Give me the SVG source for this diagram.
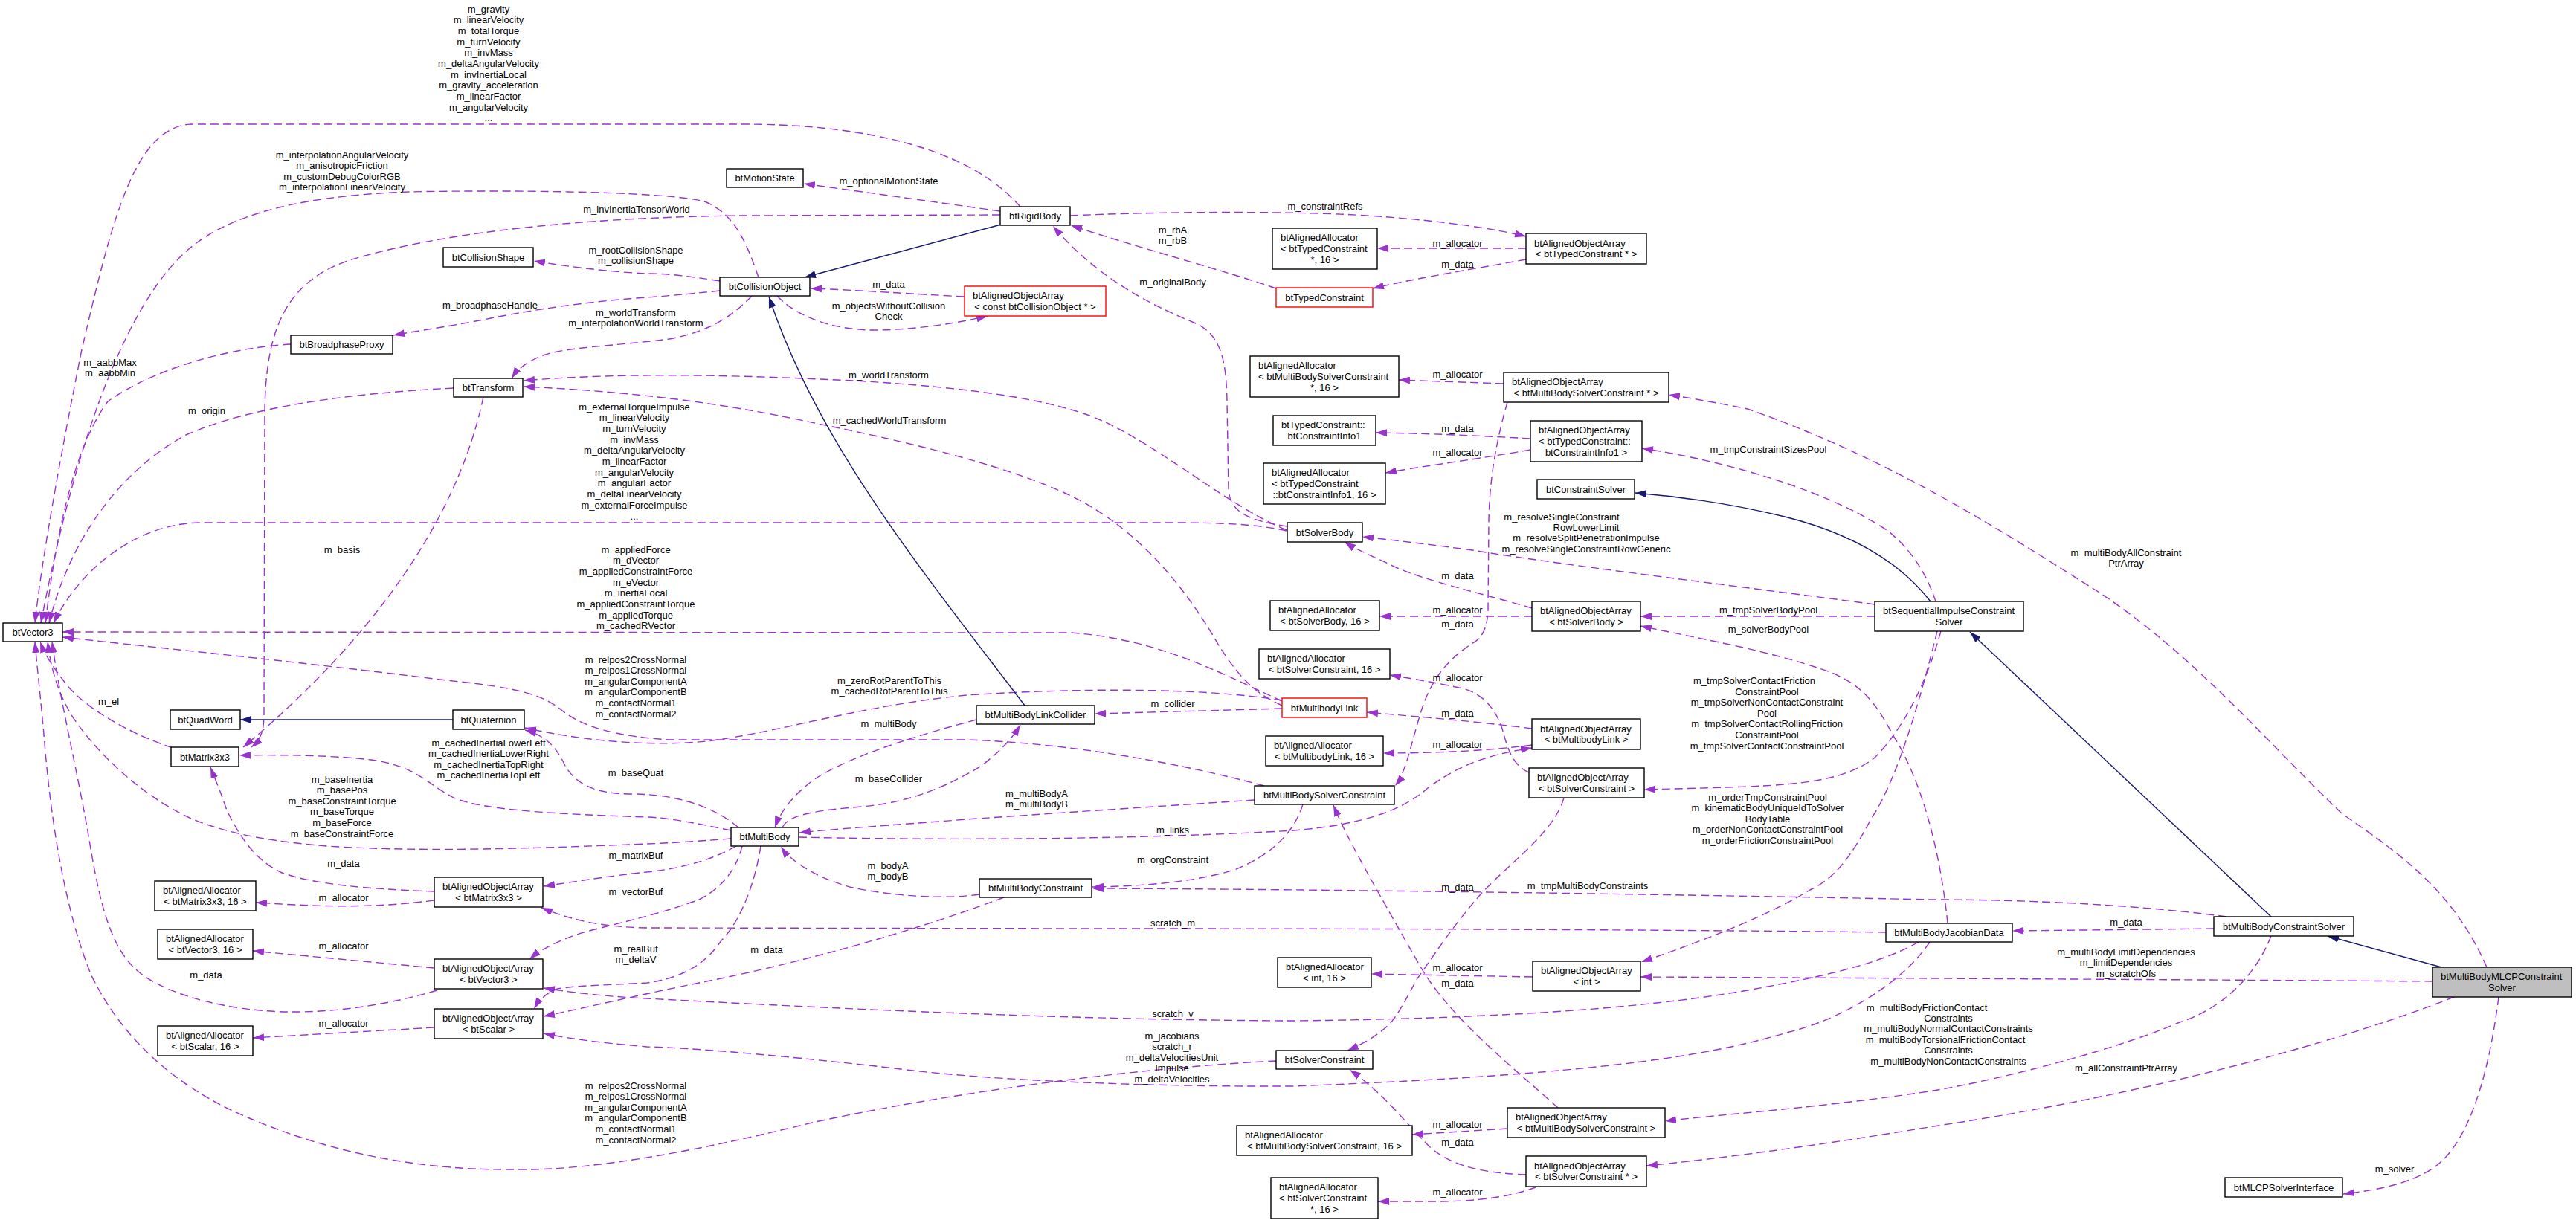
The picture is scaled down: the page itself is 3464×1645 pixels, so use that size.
<svg xmlns="http://www.w3.org/2000/svg" width="3464" height="1645" viewBox="0 0 3464 1645">
<defs>
<style>
.nd rect{fill:#fff;stroke:#000;stroke-width:1.4}
.nd.red rect{stroke:#f00}
.nd.main rect{fill:#bfbfbf}
text{font-family:"Liberation Sans",Arial,Helvetica,sans-serif;font-size:13px;fill:#000}
.c{text-anchor:middle}
.e{fill:none;stroke:#9a32cd;stroke-width:1.4;stroke-dasharray:11,6;marker-end:url(#mp)}
.i{fill:none;stroke:#191970;stroke-width:1.4;marker-end:url(#mb)}
</style>
<marker id="mp" viewBox="0 0 15 10" refX="15" refY="5" markerWidth="15" markerHeight="10" markerUnits="userSpaceOnUse" orient="auto"><path d="M0,0 L15,5 L0,10 z" fill="#9a32cd"/></marker>
<marker id="mb" viewBox="0 0 15 10" refX="15" refY="5" markerWidth="15" markerHeight="10" markerUnits="userSpaceOnUse" orient="auto"><path d="M0,0 L15,5 L0,10 z" fill="#191970"/></marker>
</defs>
<rect width="3464" height="1645" fill="#fff"/>

<g id="edges">
<path class="e" d="M 1372,278 C 1300,195 1150,167 1000,167 L 260,167 C 180,167 150,300 110,470 C 80,620 55,760 47,838"/>
<path class="e" d="M 1020,373 C 1005,330 990,290 950,272 C 910,258 700,255 549,258 C 450,262 330,275 260,330 C 170,400 100,600 55,838"/>
<path class="e" d="M 391,463 C 300,468 200,500 145,540 C 100,600 75,720 61,838"/>
<path class="e" d="M 610,522 C 450,530 330,550 250,585 C 150,640 90,740 66,838"/>
<path class="e" d="M 1730,714 C 1690,705 1640,703 1580,703 L 270,703 C 190,703 110,760 72,838"/>
<path class="e" d="M 1724,943 C 1640,905 1560,860 1440,851 L 84,850"/>
<path class="e" d="M 1700,1057 C 1600,1030 1450,1000 1300,995 L 900,995 C 820,990 780,975 755,955 C 730,935 700,925 600,915 C 400,890 200,870 84,857"/>
<path class="e" d="M 1724,942 C 1620,925 1450,925 1300,935 C 1150,950 1050,985 950,997 C 880,1004 790,998 706,979"/>
<path class="e" d="M 993,1113 C 960,1085 910,1068 850,1068 C 800,1068 775,1055 760,1030 C 748,1005 735,990 706,982"/>
<path class="e" d="M 983,1117 C 940,1108 900,1100 870,1099 C 750,1095 650,1090 610,1073 C 575,1055 560,1030 499,1022 C 450,1016 380,1015 322,1016"/>
<path class="e" d="M 650,534 C 615,700 500,860 327,1005"/>
<path class="e" d="M 1345,289 L 1000,290 C 800,292 600,310 470,350 C 380,380 358,450 356,550 L 355,960 C 355,985 350,995 338,1005"/>
<path class="e" d="M 232,1006 C 170,985 110,950 85,915 C 70,895 60,880 54,863"/>
<path class="e" d="M 983,1128 C 930,1132 900,1134 870,1135 C 700,1142 560,1146 440,1138 C 340,1130 290,1115 255,1100 C 180,1065 120,1000 95,960 C 75,925 68,895 64,863"/>
<path class="e" d="M 588,1332 C 520,1352 450,1362 388,1361 C 310,1360 230,1340 190,1310 C 150,1280 135,1220 120,1130 C 105,1040 80,940 70,863"/>
<path class="e" d="M 1716,1427 C 1550,1435 1300,1465 1092,1510 C 950,1545 800,1575 694,1573 C 540,1575 420,1540 333,1503 C 230,1460 160,1390 122,1310 C 90,1230 70,1120 60,1000 C 55,940 50,900 47,863"/>
<path class="e" d="M 968,378 C 930,372 900,368 870,368 C 820,366 760,358 718,351"/>
<path class="e" d="M 968,391 C 930,395 900,398 870,400 C 780,406 700,420 660,428 C 600,440 560,445 529,451"/>
<path class="e" d="M 1011,398 C 990,420 960,445 900,456 C 830,465 760,467 730,478 C 705,488 695,498 688,509"/>
<path class="e" d="M 1730,713 C 1650,680 1560,600 1480,565 C 1400,530 1250,518 1147,512 C 1000,505 850,500 704,512"/>
<path class="e" d="M 1724,949 C 1680,930 1660,900 1640,870 C 1600,800 1540,720 1452,673 C 1380,635 1250,600 1100,570 C 1000,548 880,528 704,520"/>
<path class="e" d="M 1731,708 C 1680,700 1655,690 1652,660 L 1650,540 C 1649,480 1640,450 1608,435 C 1560,415 1480,380 1416,304"/>
<path class="e" d="M 1345,284 L 1081,247"/>
<path class="e" d="M 1439,290 C 1550,285 1700,284 1800,288 C 1900,292 2000,305 2052,318"/>
<path class="e" d="M 1716,388 C 1650,365 1520,330 1440,303"/>
<path class="e" d="M 1297,399 C 1220,395 1150,390 1090,388"/>
<path class="e" d="M 1045,398 C 1070,425 1120,445 1181,444 C 1240,443 1300,432 1328,425"/>
<path class="e" d="M 2052,334 L 1852,334"/>
<path class="e" d="M 2052,349 C 1980,362 1900,375 1846,388"/>
<path class="e" d="M 2022,516 L 1881,511"/>
<path class="e" d="M 2027,541 C 2010,600 2003,650 2002,700 L 2001,820 C 2000,850 1990,860 1979,866 C 1950,885 1925,910 1910,960 C 1895,1010 1890,1040 1876,1057"/>
<path class="e" d="M 2058,590 C 1990,586 1920,583 1850,582"/>
<path class="e" d="M 2058,605 C 1990,617 1920,626 1863,636"/>
<path class="e" d="M 2603,809 C 2590,770 2570,740 2540,715 C 2460,660 2320,620 2208,603"/>
<path class="e" d="M 2521,813 C 2350,790 2100,760 1980,740 C 1920,732 1870,726 1832,722"/>
<path class="e" d="M 2060,818 C 2000,800 1930,785 1879,764 C 1850,750 1825,740 1808,729"/>
<path class="e" d="M 2060,829 L 1855,829"/>
<path class="e" d="M 2521,829 L 2206,829"/>
<path class="e" d="M 2619,1242 C 2610,1150 2585,1050 2545,988 C 2520,940 2500,920 2461,904 C 2380,875 2290,860 2206,842"/>
<path class="e" d="M 2610,849 C 2590,920 2560,980 2520,1020 C 2480,1050 2420,1055 2350,1058 C 2300,1060 2250,1061 2211,1062"/>
<path class="e" d="M 2056,1039 C 2035,1030 2028,1010 2020,980 C 2010,950 1990,930 1962,925 C 1930,918 1900,913 1869,908"/>
<path class="e" d="M 2103,1073 C 2090,1120 2030,1160 1990,1204 C 1950,1250 1925,1290 1906,1316 C 1890,1345 1880,1365 1868,1378 C 1850,1395 1830,1405 1812,1413"/>
<path class="e" d="M 2060,980 C 2000,972 1920,965 1838,958"/>
<path class="e" d="M 2060,1002 C 2000,1010 1930,1013 1860,1013"/>
<path class="e" d="M 1724,953 C 1650,955 1550,958 1472,960"/>
<path class="e" d="M 1074,1126 C 1300,1131 1550,1128 1740,1117 C 1820,1110 1880,1095 1920,1060 C 1960,1030 2000,1015 2060,1006"/>
<path class="e" d="M 1687,1076 C 1550,1085 1400,1095 1300,1102 C 1200,1110 1120,1115 1075,1120"/>
<path class="e" d="M 1313,968 C 1230,990 1150,1015 1100,1045 C 1070,1065 1050,1090 1042,1113"/>
<path class="e" d="M 1052,1113 C 1060,1095 1100,1090 1158,1085 C 1220,1080 1270,1060 1320,1030 C 1345,1010 1360,995 1372,975"/>
<path class="e" d="M 1317,1203 C 1270,1210 1200,1205 1147,1194 C 1100,1182 1065,1160 1050,1139"/>
<path class="e" d="M 1752,1082 C 1740,1120 1710,1150 1660,1170 C 1600,1188 1530,1192 1469,1193"/>
<path class="e" d="M 2994,1233 C 2900,1220 2750,1210 2600,1210 C 2300,1204 1800,1196 1469,1195"/>
<path class="e" d="M 1350,1207 C 1250,1245 1100,1290 950,1320 C 850,1340 790,1355 731,1367"/>
<path class="e" d="M 990,1138 C 960,1155 920,1168 870,1173 C 820,1178 780,1185 731,1192"/>
<path class="e" d="M 998,1138 C 990,1170 970,1195 940,1210 C 900,1225 860,1235 800,1250 C 760,1260 730,1275 712,1290"/>
<path class="e" d="M 1023,1138 C 1015,1190 995,1240 970,1265 C 950,1295 920,1315 870,1322 C 820,1325 780,1325 750,1330 C 735,1335 725,1345 718,1357"/>
<path class="e" d="M 2536,1254 C 2300,1251 1900,1249 1500,1249 L 870,1248 C 810,1247 770,1238 728,1221"/>
<path class="e" d="M 2580,1267 C 2530,1295 2461,1312 2350,1332 C 2200,1358 2000,1370 1740,1373 C 1450,1372 1150,1358 870,1343 C 810,1340 770,1335 731,1329"/>
<path class="e" d="M 2595,1267 C 2560,1320 2480,1370 2406,1388 C 2300,1420 2150,1445 1740,1461 C 1500,1462 1300,1450 1203,1437 C 1100,1425 950,1410 870,1408 C 800,1402 760,1396 731,1390"/>
<path class="e" d="M 584,1211 C 530,1218 480,1220 420,1218 C 390,1217 365,1215 344,1214"/>
<path class="e" d="M 584,1199 C 500,1196 420,1190 377,1173 C 340,1155 320,1120 305,1090 C 295,1060 288,1045 283,1032"/>
<path class="e" d="M 584,1302 L 340,1279"/>
<path class="e" d="M 584,1382 L 340,1396"/>
<path class="e" d="M 3344,1301 C 3300,1200 3230,1150 3150,1095 C 3050,1000 2950,880 2820,795 C 2700,720 2550,620 2350,550 C 2300,540 2270,535 2244,531"/>
<path class="e" d="M 2605,849 C 2580,950 2550,1050 2517,1100 C 2490,1150 2470,1180 2434,1197 C 2380,1230 2300,1262 2207,1294"/>
<path class="e" d="M 3271,1320 C 3000,1318 2600,1316 2206,1314"/>
<path class="e" d="M 2977,1249 C 2900,1250 2800,1251 2706,1252"/>
<path class="e" d="M 3054,1259 C 3030,1320 2980,1360 2931,1375 C 2850,1410 2700,1450 2600,1467 C 2450,1490 2300,1500 2239,1508"/>
<path class="e" d="M 2095,1490 C 2040,1440 1950,1370 1910,1300 C 1870,1230 1830,1160 1810,1120 C 1800,1100 1796,1090 1793,1083"/>
<path class="e" d="M 2052,1580 C 2000,1578 1950,1570 1920,1540 C 1890,1510 1860,1470 1815,1439"/>
<path class="e" d="M 2027,1518 L 1899,1526"/>
<path class="e" d="M 2065,1597 C 2030,1610 1990,1615 1940,1616 L 1853,1616"/>
<path class="e" d="M 2061,1314 L 1844,1310"/>
<path class="e" d="M 3300,1341 C 3150,1400 2900,1470 2600,1515 C 2450,1540 2300,1560 2214,1568"/>
<path class="e" d="M 3360,1341 C 3350,1420 3330,1510 3290,1555 C 3260,1590 3200,1600 3151,1606"/>
<path class="i" d="M 1346,302 L 1082,373"/>
<path class="i" d="M 1378,949 C 1250,780 1100,600 1034,399"/>
<path class="i" d="M 609,968 L 323,968"/>
<path class="i" d="M 2596,809 C 2550,750 2480,715 2400,695 C 2330,678 2260,668 2199,663"/>
<path class="i" d="M 3054,1233 L 2649,850"/>
<path class="i" d="M 3283,1301 L 3130,1259"/>
</g>

<g id="edge-labels" class="c">
<text x="657" y="16.5"><tspan x="657">m_gravity</tspan><tspan x="657" dy="14.7">m_linearVelocity</tspan><tspan x="657" dy="14.7">m_totalTorque</tspan><tspan x="657" dy="14.7">m_turnVelocity</tspan><tspan x="657" dy="14.7">m_invMass</tspan><tspan x="657" dy="14.7">m_deltaAngularVelocity</tspan><tspan x="657" dy="14.7">m_invInertiaLocal</tspan><tspan x="657" dy="14.7">m_gravity_acceleration</tspan><tspan x="657" dy="14.7">m_linearFactor</tspan><tspan x="657" dy="14.7">m_angularVelocity</tspan><tspan x="657" dy="14.7">...</tspan></text>
<text x="460" y="212.5"><tspan x="460">m_interpolationAngularVelocity</tspan><tspan x="460" dy="14.6">m_anisotropicFriction</tspan><tspan x="460" dy="14.6">m_customDebugColorRGB</tspan><tspan x="460" dy="14.6">m_interpolationLinearVelocity</tspan></text>
<text x="856" y="285.5">m_invInertiaTensorWorld</text>
<text x="855" y="340.5"><tspan x="855">m_rootCollisionShape</tspan><tspan x="855" dy="14.6">m_collisionShape</tspan></text>
<text x="659" y="414.5">m_broadphaseHandle</text>
<text x="855" y="424.5"><tspan x="855">m_worldTransform</tspan><tspan x="855" dy="14.6">m_interpolationWorldTransform</tspan></text>
<text x="148" y="491.5"><tspan x="148">m_aabbMax</tspan><tspan x="148" dy="14.6">m_aabbMin</tspan></text>
<text x="278" y="556.5">m_origin</text>
<text x="853" y="551.5"><tspan x="853">m_externalTorqueImpulse</tspan><tspan x="853" dy="14.7">m_linearVelocity</tspan><tspan x="853" dy="14.7">m_turnVelocity</tspan><tspan x="853" dy="14.7">m_invMass</tspan><tspan x="853" dy="14.7">m_deltaAngularVelocity</tspan><tspan x="853" dy="14.7">m_linearFactor</tspan><tspan x="853" dy="14.7">m_angularVelocity</tspan><tspan x="853" dy="14.7">m_angularFactor</tspan><tspan x="853" dy="14.7">m_deltaLinearVelocity</tspan><tspan x="853" dy="14.7">m_externalForceImpulse</tspan><tspan x="853" dy="14.7">...</tspan></text>
<text x="855" y="743.5"><tspan x="855">m_appliedForce</tspan><tspan x="855" dy="14.7">m_dVector</tspan><tspan x="855" dy="14.7">m_appliedConstraintForce</tspan><tspan x="855" dy="14.7">m_eVector</tspan><tspan x="855" dy="14.7">m_inertiaLocal</tspan><tspan x="855" dy="14.7">m_appliedConstraintTorque</tspan><tspan x="855" dy="14.7">m_appliedTorque</tspan><tspan x="855" dy="14.7">m_cachedRVector</tspan></text>
<text x="460" y="743.5">m_basis</text>
<text x="855" y="891.5"><tspan x="855">m_relpos2CrossNormal</tspan><tspan x="855" dy="14.6">m_relpos1CrossNormal</tspan><tspan x="855" dy="14.6">m_angularComponentA</tspan><tspan x="855" dy="14.6">m_angularComponentB</tspan><tspan x="855" dy="14.6">m_contactNormal1</tspan><tspan x="855" dy="14.6">m_contactNormal2</tspan></text>
<text x="1196" y="919.5"><tspan x="1196">m_zeroRotParentToThis</tspan><tspan x="1196" dy="14.6">m_cachedRotParentToThis</tspan></text>
<text x="146" y="947.5">m_el</text>
<text x="1195" y="977.5">m_multiBody</text>
<text x="1577" y="950.5">m_collider</text>
<text x="657" y="1003.5"><tspan x="657">m_cachedInertiaLowerLeft</tspan><tspan x="657" dy="14.6">m_cachedInertiaLowerRight</tspan><tspan x="657" dy="14.6">m_cachedInertiaTopRight</tspan><tspan x="657" dy="14.6">m_cachedInertiaTopLeft</tspan></text>
<text x="855" y="1043.5">m_baseQuat</text>
<text x="1195" y="1051.5">m_baseCollider</text>
<text x="460" y="1052.5"><tspan x="460">m_baseInertia</tspan><tspan x="460" dy="14.6">m_basePos</tspan><tspan x="460" dy="14.6">m_baseConstraintTorque</tspan><tspan x="460" dy="14.6">m_baseTorque</tspan><tspan x="460" dy="14.6">m_baseForce</tspan><tspan x="460" dy="14.6">m_baseConstraintForce</tspan></text>
<text x="1394" y="1071.5"><tspan x="1394">m_multiBodyA</tspan><tspan x="1394" dy="14.6">m_multiBodyB</tspan></text>
<text x="1577" y="1120.5">m_links</text>
<text x="855" y="1154.5">m_matrixBuf</text>
<text x="1577" y="1160.5">m_orgConstraint</text>
<text x="462" y="1165.5">m_data</text>
<text x="1194" y="1168.5"><tspan x="1194">m_bodyA</tspan><tspan x="1194" dy="14.6">m_bodyB</tspan></text>
<text x="855" y="1203.5">m_vectorBuf</text>
<text x="462" y="1211.5">m_allocator</text>
<text x="1577" y="1245.5">scratch_m</text>
<text x="462" y="1276.5">m_allocator</text>
<text x="855" y="1280.5"><tspan x="855">m_realBuf</tspan><tspan x="855" dy="14.6">m_deltaV</tspan></text>
<text x="1031" y="1281.5">m_data</text>
<text x="277" y="1315.5">m_data</text>
<text x="1577" y="1367.5">scratch_v</text>
<text x="462" y="1380.5">m_allocator</text>
<text x="1576" y="1397.5"><tspan x="1576">m_jacobians</tspan><tspan x="1576" dy="14.6">scratch_r</tspan><tspan x="1576" dy="14.6">m_deltaVelocitiesUnit</tspan><tspan x="1576" dy="14.6">Impulse</tspan><tspan x="1576" dy="14.6">m_deltaVelocities</tspan></text>
<text x="855" y="1464.5"><tspan x="855">m_relpos2CrossNormal</tspan><tspan x="855" dy="14.6">m_relpos1CrossNormal</tspan><tspan x="855" dy="14.6">m_angularComponentA</tspan><tspan x="855" dy="14.6">m_angularComponentB</tspan><tspan x="855" dy="14.6">m_contactNormal1</tspan><tspan x="855" dy="14.6">m_contactNormal2</tspan></text>
<text x="1195" y="247.5">m_optionalMotionState</text>
<text x="1782" y="281.5">m_constraintRefs</text>
<text x="1577" y="313.5"><tspan x="1577">m_rbA</tspan><tspan x="1577" dy="14.6">m_rbB</tspan></text>
<text x="1577" y="383.5">m_originalBody</text>
<text x="1195" y="386.5">m_data</text>
<text x="1195" y="415.5"><tspan x="1195">m_objectsWithoutCollision</tspan><tspan x="1195" dy="14.6">Check</tspan></text>
<text x="1196" y="569.5">m_cachedWorldTransform</text>
<text x="1195" y="508.5">m_worldTransform</text>
<text x="1960" y="331.5">m_allocator</text>
<text x="1960" y="359.5">m_data</text>
<text x="1960" y="507.5">m_allocator</text>
<text x="1960" y="580.5">m_data</text>
<text x="1960" y="612.5">m_allocator</text>
<text x="1960" y="778.5">m_data</text>
<text x="1960" y="824.5">m_allocator</text>
<text x="1960" y="843.5">m_data</text>
<text x="1960" y="915.5">m_allocator</text>
<text x="1960" y="963.5">m_data</text>
<text x="1960" y="1005.5">m_allocator</text>
<text x="1960" y="1197.5">m_data</text>
<text x="1960" y="1305.5">m_allocator</text>
<text x="1960" y="1326.5">m_data</text>
<text x="1960" y="1516.5">m_allocator</text>
<text x="1960" y="1540.5">m_data</text>
<text x="1960" y="1607.5">m_allocator</text>
<text x="2378" y="608.5">m_tmpConstraintSizesPool</text>
<text x="2378" y="824.5">m_tmpSolverBodyPool</text>
<text x="2378" y="850.5">m_solverBodyPool</text>
<text x="2100" y="699.5">m_resolveSingleConstraint</text>
<text x="2133" y="713.5"><tspan x="2133">RowLowerLimit</tspan><tspan x="2133" dy="14.6">m_resolveSplitPenetrationImpulse</tspan><tspan x="2133" dy="14.6">m_resolveSingleConstraintRowGeneric</tspan></text>
<text x="2359" y="919.5">m_tmpSolverContactFriction</text>
<text x="2376" y="934.5"><tspan x="2376">ConstraintPool</tspan><tspan x="2376" dy="14.6">m_tmpSolverNonContactConstraint</tspan><tspan x="2376" dy="14.6">Pool</tspan><tspan x="2376" dy="14.6">m_tmpSolverContactRollingFriction</tspan><tspan x="2376" dy="14.6">ConstraintPool</tspan><tspan x="2376" dy="14.6">m_tmpSolverContactConstraintPool</tspan></text>
<text x="2377" y="1076.5"><tspan x="2377">m_orderTmpConstraintPool</tspan><tspan x="2377" dy="14.6">m_kinematicBodyUniqueIdToSolver</tspan><tspan x="2377" dy="14.6">BodyTable</tspan><tspan x="2377" dy="14.6">m_orderNonContactConstraintPool</tspan><tspan x="2377" dy="14.6">m_orderFrictionConstraintPool</tspan></text>
<text x="2859" y="747.5"><tspan x="2859">m_multiBodyAllConstraint</tspan><tspan x="2859" dy="14.6">PtrArray</tspan></text>
<text x="2135" y="1195.5">m_tmpMultiBodyConstraints</text>
<text x="2859" y="1244.5">m_data</text>
<text x="2859" y="1284.5"><tspan x="2859">m_multiBodyLimitDependencies</tspan><tspan x="2859" dy="14.6">m_limitDependencies</tspan><tspan x="2859" dy="14.6">m_scratchOfs</tspan></text>
<text x="2591" y="1359.5">m_multiBodyFrictionContact</text>
<text x="2620" y="1373.5"><tspan x="2620">Constraints</tspan><tspan x="2620" dy="14.6">m_multiBodyNormalContactConstraints</tspan><tspan x="2616" dy="14.6">m_multiBodyTorsionalFrictionContact</tspan><tspan x="2620" dy="14.6">Constraints</tspan><tspan x="2620" dy="14.6">m_multiBodyNonContactConstraints</tspan></text>
<text x="2859" y="1440.5">m_allConstraintPtrArray</text>
<text x="3220" y="1576.5">m_solver</text>
</g>

<g id="n_btVector3" class="nd"><rect x="4" y="838" width="80" height="25"/><text class="c" x="44" y="855">btVector3</text></g>
<g id="n_btQuadWord" class="nd"><rect x="229" y="955" width="94" height="26"/><text class="c" x="276" y="972.5">btQuadWord</text></g>
<g id="n_btMatrix3x3" class="nd"><rect x="230" y="1005" width="91" height="26"/><text class="c" x="275.5" y="1022.5">btMatrix3x3</text></g>
<g id="n_btQuaternion" class="nd"><rect x="609" y="955" width="96" height="26"/><text class="c" x="657" y="972.5">btQuaternion</text></g>
<g id="n_btTransform" class="nd"><rect x="610" y="509" width="93" height="25"/><text class="c" x="656.5" y="526">btTransform</text></g>
<g id="n_btBroadphaseProxy" class="nd"><rect x="391" y="451" width="137" height="25"/><text class="c" x="459.5" y="468">btBroadphaseProxy</text></g>
<g id="n_btCollisionShape" class="nd"><rect x="596" y="333" width="121" height="26"/><text class="c" x="656.5" y="350.5">btCollisionShape</text></g>
<g id="n_btCollisionObject" class="nd"><rect x="968" y="373" width="121" height="25"/><text class="c" x="1028.5" y="390">btCollisionObject</text></g>
<g id="n_btMotionState" class="nd"><rect x="977" y="227" width="103" height="25"/><text class="c" x="1028.5" y="244">btMotionState</text></g>
<g id="n_btRigidBody" class="nd"><rect x="1345" y="278" width="94" height="25"/><text class="c" x="1392" y="295">btRigidBody</text></g>
<g id="n_arr_constCollisionObject" class="nd red"><rect x="1297" y="385" width="190" height="40"/><text x="1308" y="402.2">btAlignedObjectArray</text><text class="c" x="1392" y="416.8">&lt; const btCollisionObject * &gt;</text></g>
<g id="n_alloc_typedConstraintPtr" class="nd"><rect x="1711" y="307" width="141" height="55"/><text x="1722" y="324.4">btAlignedAllocator</text><text x="1722" y="339">&lt; btTypedConstraint</text><text class="c" x="1781.5" y="353.6">*, 16 &gt;</text></g>
<g id="n_btTypedConstraint" class="nd red"><rect x="1716" y="387" width="130" height="26"/><text class="c" x="1781" y="404.5">btTypedConstraint</text></g>
<g id="n_arr_typedConstraintPtr" class="nd"><rect x="2052" y="314" width="162" height="41"/><text x="2063" y="331.7">btAlignedObjectArray</text><text class="c" x="2133" y="346.3">&lt; btTypedConstraint * &gt;</text></g>
<g id="n_alloc_mbSolverConstraintPtr" class="nd"><rect x="1681" y="479" width="200" height="55"/><text x="1692" y="496.4">btAlignedAllocator</text><text x="1692" y="511">&lt; btMultiBodySolverConstraint</text><text class="c" x="1781" y="525.6">*, 16 &gt;</text></g>
<g id="n_arr_mbSolverConstraintPtr" class="nd"><rect x="2022" y="501" width="222" height="40"/><text x="2033" y="518.2">btAlignedObjectArray</text><text class="c" x="2133" y="532.8">&lt; btMultiBodySolverConstraint * &gt;</text></g>
<g id="n_typedConstraintInfo1" class="nd"><rect x="1712" y="559" width="138" height="40"/><text x="1723" y="576.2">btTypedConstraint::</text><text class="c" x="1781" y="590.8">btConstraintInfo1</text></g>
<g id="n_arr_constraintInfo1" class="nd"><rect x="2058" y="566" width="150" height="55"/><text x="2069" y="583.4">btAlignedObjectArray</text><text x="2069" y="598">&lt; btTypedConstraint::</text><text class="c" x="2133" y="612.6">btConstraintInfo1 &gt;</text></g>
<g id="n_alloc_constraintInfo1" class="nd"><rect x="1699" y="623" width="164" height="55"/><text x="1710" y="640.4">btAlignedAllocator</text><text x="1710" y="655">&lt; btTypedConstraint</text><text class="c" x="1781" y="669.6">::btConstraintInfo1, 16 &gt;</text></g>
<g id="n_btConstraintSolver" class="nd"><rect x="2067" y="645" width="131" height="26"/><text class="c" x="2132.5" y="662.5">btConstraintSolver</text></g>
<g id="n_btSolverBody" class="nd"><rect x="1731" y="703" width="101" height="26"/><text class="c" x="1781.5" y="720.5">btSolverBody</text></g>
<g id="n_alloc_solverBody" class="nd"><rect x="1708" y="808" width="147" height="40"/><text x="1719" y="825.2">btAlignedAllocator</text><text class="c" x="1781.5" y="839.8">&lt; btSolverBody, 16 &gt;</text></g>
<g id="n_arr_solverBody" class="nd"><rect x="2060" y="809" width="146" height="40"/><text x="2071" y="826.2">btAlignedObjectArray</text><text class="c" x="2133" y="840.8">&lt; btSolverBody &gt;</text></g>
<g id="n_btSequentialImpulseConstraintSolver" class="nd"><rect x="2521" y="809" width="200" height="40"/><text x="2532" y="826.2">btSequentialImpulseConstraint</text><text class="c" x="2621" y="840.8">Solver</text></g>
<g id="n_alloc_solverConstraint" class="nd"><rect x="1693" y="873" width="176" height="40"/><text x="1704" y="890.2">btAlignedAllocator</text><text class="c" x="1781" y="904.8">&lt; btSolverConstraint, 16 &gt;</text></g>
<g id="n_btMultibodyLink" class="nd red"><rect x="1724" y="939" width="114" height="26"/><text class="c" x="1781" y="956.5">btMultibodyLink</text></g>
<g id="n_btMultiBodyLinkCollider" class="nd"><rect x="1313" y="949" width="159" height="25"/><text class="c" x="1392.5" y="966">btMultiBodyLinkCollider</text></g>
<g id="n_arr_multibodyLink" class="nd"><rect x="2060" y="967" width="146" height="41"/><text x="2071" y="984.7">btAlignedObjectArray</text><text class="c" x="2133" y="999.3">&lt; btMultibodyLink &gt;</text></g>
<g id="n_alloc_multibodyLink" class="nd"><rect x="1702" y="990" width="158" height="40"/><text x="1713" y="1007.2">btAlignedAllocator</text><text class="c" x="1781" y="1021.8">&lt; btMultibodyLink, 16 &gt;</text></g>
<g id="n_arr_solverConstraint" class="nd"><rect x="2056" y="1033" width="155" height="40"/><text x="2067" y="1050.2">btAlignedObjectArray</text><text class="c" x="2133.5" y="1064.8">&lt; btSolverConstraint &gt;</text></g>
<g id="n_btMultiBodySolverConstraint" class="nd"><rect x="1687" y="1057" width="188" height="25"/><text class="c" x="1781" y="1074">btMultiBodySolverConstraint</text></g>
<g id="n_btMultiBody" class="nd"><rect x="983" y="1113" width="91" height="25"/><text class="c" x="1028.5" y="1130">btMultiBody</text></g>
<g id="n_arr_matrix3x3" class="nd"><rect x="584" y="1180" width="146" height="40"/><text x="595" y="1197.2">btAlignedObjectArray</text><text class="c" x="657" y="1211.8">&lt; btMatrix3x3 &gt;</text></g>
<g id="n_alloc_matrix3x3" class="nd"><rect x="208" y="1185" width="136" height="40"/><text x="219" y="1202.2">btAlignedAllocator</text><text class="c" x="276" y="1216.8">&lt; btMatrix3x3, 16 &gt;</text></g>
<g id="n_btMultiBodyConstraint" class="nd"><rect x="1317" y="1182" width="151" height="25"/><text class="c" x="1392.5" y="1199">btMultiBodyConstraint</text></g>
<g id="n_btMultiBodyJacobianData" class="nd"><rect x="2536" y="1242" width="170" height="25"/><text class="c" x="2621" y="1259">btMultiBodyJacobianData</text></g>
<g id="n_btMultiBodyConstraintSolver" class="nd"><rect x="2977" y="1233" width="188" height="26"/><text class="c" x="3071" y="1250.5">btMultiBodyConstraintSolver</text></g>
<g id="n_alloc_vector3" class="nd"><rect x="212" y="1250" width="128" height="40"/><text x="223" y="1267.2">btAlignedAllocator</text><text class="c" x="276" y="1281.8">&lt; btVector3, 16 &gt;</text></g>
<g id="n_arr_vector3" class="nd"><rect x="584" y="1290" width="146" height="40"/><text x="595" y="1307.2">btAlignedObjectArray</text><text class="c" x="657" y="1321.8">&lt; btVector3 &gt;</text></g>
<g id="n_alloc_int" class="nd"><rect x="1718" y="1288" width="126" height="40"/><text x="1729" y="1305.2">btAlignedAllocator</text><text class="c" x="1781" y="1319.8">&lt; int, 16 &gt;</text></g>
<g id="n_arr_int" class="nd"><rect x="2061" y="1293" width="145" height="40"/><text x="2072" y="1310.2">btAlignedObjectArray</text><text class="c" x="2133.5" y="1324.8">&lt; int &gt;</text></g>
<g id="n_btMultiBodyMLCPConstraintSolver" class="nd main"><rect x="3271" y="1301" width="187" height="40"/><text x="3282" y="1318.2">btMultiBodyMLCPConstraint</text><text class="c" x="3364.5" y="1332.8">Solver</text></g>
<g id="n_arr_scalar" class="nd"><rect x="584" y="1357" width="146" height="40"/><text x="595" y="1374.2">btAlignedObjectArray</text><text class="c" x="657" y="1388.8">&lt; btScalar &gt;</text></g>
<g id="n_alloc_scalar" class="nd"><rect x="212" y="1380" width="128" height="40"/><text x="223" y="1397.2">btAlignedAllocator</text><text class="c" x="276" y="1411.8">&lt; btScalar, 16 &gt;</text></g>
<g id="n_btSolverConstraint" class="nd"><rect x="1716" y="1413" width="130" height="25"/><text class="c" x="1781" y="1430">btSolverConstraint</text></g>
<g id="n_alloc_mbSolverConstraint" class="nd"><rect x="1663" y="1514" width="236" height="40"/><text x="1674" y="1531.2">btAlignedAllocator</text><text class="c" x="1781" y="1545.8">&lt; btMultiBodySolverConstraint, 16 &gt;</text></g>
<g id="n_arr_mbSolverConstraint" class="nd"><rect x="2027" y="1490" width="212" height="40"/><text x="2038" y="1507.2">btAlignedObjectArray</text><text class="c" x="2133" y="1521.8">&lt; btMultiBodySolverConstraint &gt;</text></g>
<g id="n_arr_solverConstraintPtr" class="nd"><rect x="2052" y="1555" width="162" height="41"/><text x="2063" y="1572.7">btAlignedObjectArray</text><text class="c" x="2133" y="1587.3">&lt; btSolverConstraint * &gt;</text></g>
<g id="n_alloc_solverConstraintPtr" class="nd"><rect x="1709" y="1584" width="144" height="55"/><text x="1720" y="1601.4">btAlignedAllocator</text><text x="1720" y="1616">&lt; btSolverConstraint</text><text class="c" x="1781" y="1630.6">*, 16 &gt;</text></g>
<g id="n_btMLCPSolverInterface" class="nd"><rect x="2992" y="1584" width="158" height="26"/><text class="c" x="3071" y="1601.5">btMLCPSolverInterface</text></g>
</svg>
